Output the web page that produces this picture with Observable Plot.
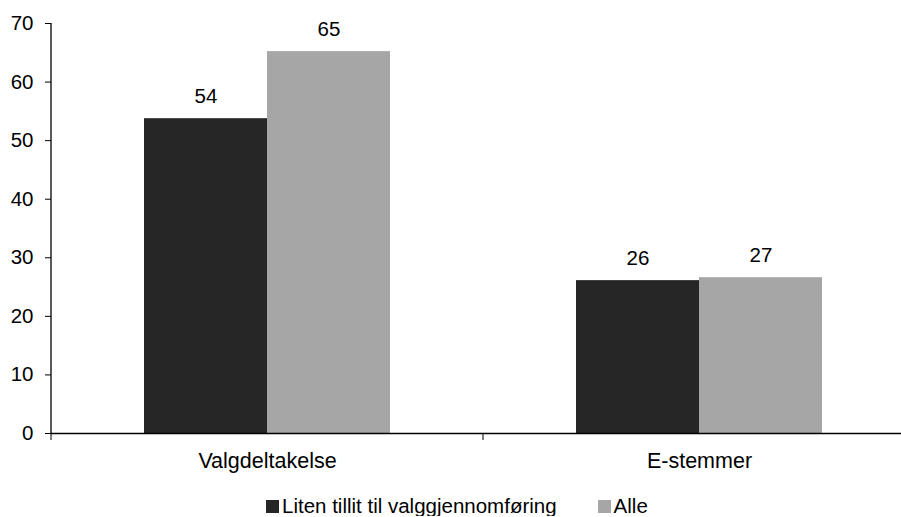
<!DOCTYPE html>
<html>
<head>
<meta charset="utf-8">
<script src="https://cdn.jsdelivr.net/npm/d3@7"></script>
<script src="https://cdn.jsdelivr.net/npm/@observablehq/plot@0.6"></script>
<style>
  body { margin: 0; background: #fff; font-family: "Liberation Sans", Arial, sans-serif; }
  #legend { display: flex; align-items: center; font-size: 20.5px; line-height: 20px; margin-top: 21px; padding-left: 266px; color: #000; }
  .item { display: flex; align-items: center; }
  .sw { width: 13px; height: 13px; margin-right: 3px; }
</style>
</head>
<body>
<div id="chart"></div>
<div id="legend"></div>
<script>
const categories = ["Valgdeltakelse", "E-stemmer"];
const seriesNames = ["Liten tillit til valggjennomføring", "Alle"];
const lowTrust = [53.75, 26.1];
const everyone = [65.2, 26.6];
const yTicks = [0, 10, 20, 30, 40, 50, 60, 70];
const colors = ["#262626", "#a6a6a6"];

const rows = [];
categories.forEach((c, i) => {
  rows.push({category: c, series: seriesNames[0], value: lowTrust[i]});
  rows.push({category: c, series: seriesNames[1], value: everyone[i]});
});

const font = "Liberation Sans, Arial, sans-serif";

const frameMark = (index, scales, values, dims) => {
  const g = d3.create("svg:g");
  const x = scales.x, y = scales.y;
  const bw = x.bandwidth();
  const y0 = y(0);
  g.append("line").attr("x1", dims.marginLeft).attr("x2", dims.marginLeft)
    .attr("y1", y(70)).attr("y2", y0).attr("stroke", "#000").attr("stroke-width", 1.3);
  const bounds = categories.map(c => x(c)).concat([x(categories[categories.length - 1]) + bw]);
  bounds.forEach(b => {
    g.append("line").attr("x1", b).attr("x2", b).attr("y1", y0).attr("y2", y0 + 7)
      .attr("stroke", "#000").attr("stroke-width", 1);
  });
  return g.node();
};

const plot = Plot.plot({
  width: 901,
  height: 475,
  marginTop: 23,
  marginBottom: 42,
  marginLeft: 51,
  marginRight: 0,
  style: {fontFamily: font, fontSize: "20.5px", color: "#000", background: "#fff"},
  x: {domain: categories, range: [51, 915], padding: 0, label: null},
  y: {domain: [0, 70], label: null},
  marks: [
    Plot.barY(rows.filter(d => d.series === seriesNames[0]), {
      x: "category", y: "value", fill: colors[0], insetLeft: 93, insetRight: 216
    }),
    Plot.barY(rows.filter(d => d.series === seriesNames[1]), {
      x: "category", y: "value", fill: colors[1], insetLeft: 216, insetRight: 93
    }),
    Plot.text(rows.filter(d => d.series === seriesNames[0]), {
      x: "category", y: "value", dx: -61.5, dy: -16, lineAnchor: "bottom",
      text: d => d3.format(".0f")(d.value), fontSize: 20.5, fill: "#000"
    }),
    Plot.text(rows.filter(d => d.series === seriesNames[1]), {
      x: "category", y: "value", dx: 61.5, dy: -16, lineAnchor: "bottom",
      text: d => d3.format(".0f")(d.value), fontSize: 20.5, fill: "#000"
    }),
    Plot.axisY({ticks: yTicks, tickSize: 6, tickPadding: 12, label: null, fontSize: 20.5}),
    Plot.axisX({tickSize: 0, tickPadding: 19, label: null, fontSize: 21.5}),
    Plot.ruleY([0], {stroke: "#000", strokeWidth: 1.6}),
    frameMark
  ]
});
document.getElementById("chart").appendChild(plot);

const legend = d3.select("#legend");
seriesNames.forEach((s, i) => {
  const it = legend.append("div").attr("class", "item").style("margin-right", i === 0 ? "41px" : "0");
  it.append("div").attr("class", "sw").style("background", colors[i]);
  it.append("span").text(s);
});
</script>
</body>
</html>
